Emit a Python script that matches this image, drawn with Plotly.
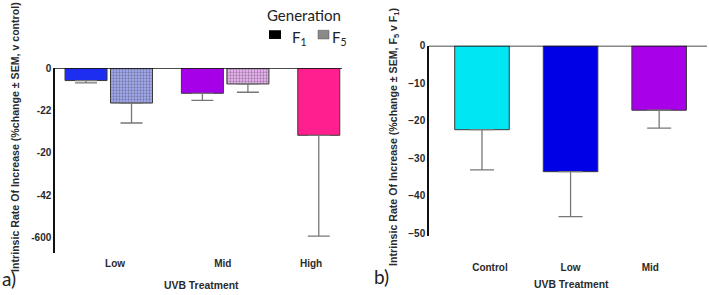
import plotly.graph_objects as go

# ---- data (panel a) ----
cats_a = ["Low", "Mid", "High"]
f1_vals = [-5.9, -11.9, -31.7]
f1_err = [1.1, 3.3, 47.5]
f5_vals = [-16.5, -7.5, None]
f5_err = [9.4, 3.9, 0]
ytick_vals_a = [0, -20, -40, -60, -80]
ytick_text_a = ["0", "-22", "-20", "-42", "-600"]

# ---- data (panel b) ----
cats_b = ["Control", "Low", "Mid"]
b_vals = [-22.4, -33.6, -17.2]
b_err = [10.7, 12.0, 4.8]
ytick_vals_b = [0, -10, -20, -30, -40, -50]

W, H = 709, 295
FONT = "Liberation Sans, Arial, sans-serif"
LFONT = "Lato, Open Sans, sans-serif"

f1_colors = ["#1e2ef0", "#a500e8", "#ff1f8e"]
f5_bg = ["#a6aefa", "#f2b6fa", "#ffffff"]
f5_fg = ["#2836e6", "#c038e6", "#ffffff"]
b_colors = ["#00e6f2", "#0000e6", "#a800e8"]

fig = go.Figure()

fig.add_trace(go.Bar(
    x=list(range(len(cats_a))), y=f1_vals, name="F1",
    marker=dict(color=f1_colors, line=dict(color="#3a3a3a", width=1)),
    error_y=dict(type="data", symmetric=False, array=[0]*3, arrayminus=f1_err,
                 color="#777777", thickness=1.3, width=11),
    xaxis="x", yaxis="y", showlegend=False))

fig.add_trace(go.Bar(
    x=list(range(len(cats_a))), y=f5_vals, name="F5",
    marker=dict(color=f5_bg, line=dict(color="#3a3a3a", width=1),
                pattern=dict(shape=".", fillmode="overlay", fgcolor=f5_fg,
                             size=3, solidity=0.45)),
    error_y=dict(type="data", symmetric=False, array=[0]*3, arrayminus=f5_err,
                 color="#777777", thickness=1.3, width=11),
    xaxis="x", yaxis="y", showlegend=False))

fig.add_trace(go.Bar(
    x=list(range(len(cats_b))), y=b_vals,
    width=[0.616]*3, offset=[-0.308]*3,
    marker=dict(color=b_colors, line=dict(color="#3a3a3a", width=1)),
    error_y=dict(type="data", symmetric=False, array=[0]*3, arrayminus=b_err,
                 color="#777777", thickness=1.3, width=12),
    xaxis="x2", yaxis="y2", showlegend=False))

tickfont = dict(family=FONT, size=10, color="#2a2a2a", weight=700)

fig.update_layout(
    width=W, height=H,
    margin=dict(l=0, r=0, t=0, b=0),
    paper_bgcolor="white", plot_bgcolor="white",
    barmode="group", bargap=0.218, bargroupgap=0.077,
    showlegend=False,
    xaxis=dict(domain=[55/W, 342/W], range=[-0.462, 2.004], anchor="y",
               tickmode="array", tickvals=[0.054, 0.98, 1.738], ticktext=cats_a,
               showline=False, showgrid=False, zeroline=False, ticks="",
               tickfont=tickfont, ticklabelstandoff=3),
    yaxis=dict(domain=[1-255/H, 1-64/H], range=[-87.3, 0], anchor="x",
               tickmode="array", tickvals=ytick_vals_a, ticktext=ytick_text_a,
               showline=True, linecolor="#111111", linewidth=1.5,
               showgrid=False, zeroline=False, ticks="", tickfont=tickfont),
    xaxis2=dict(domain=[429/W, 707/W], range=[-0.598, 2.54], anchor="y2",
                tickmode="array", tickvals=[0.09, 1.0, 1.9], ticktext=cats_b,
                showline=False, showgrid=False, zeroline=False, ticks="",
                tickfont=tickfont, ticklabelstandoff=24),
    yaxis2=dict(domain=[1-237/H, 1-41/H], range=[-50.7, 0], anchor="x2",
                tickmode="array", tickvals=ytick_vals_b,
                showline=True, linecolor="#111111", linewidth=1.5,
                showgrid=False, zeroline=False, ticks="", tickfont=tickfont),
)

# zero lines along the top of each panel
fig.add_shape(type="line", xref="x domain", yref="y", x0=0, x1=1, y0=0, y1=0,
              line=dict(color="#111111", width=1.5))
fig.add_shape(type="line", xref="x2 domain", yref="y2", x0=0, x1=1, y0=0, y1=0,
              line=dict(color="#111111", width=1.5))

titlefont = dict(family=FONT, size=10.6, color="#2a2a2a", weight=700)
ann = []
ann.append(dict(text="Intrinsic Rate Of Increase (%change ± SEM, v control)",
                x=15/W, y=1-135/H, textangle=-90, font=titlefont))
ann.append(dict(text="Intrinsic Rate Of Increase (%change ± SEM, F<sub>5</sub> v F<sub>1</sub>)",
                x=394/W, y=1-135/H, textangle=-90, font=titlefont))
ann.append(dict(text="UVB Treatment", x=201/W, y=1-288/H, font=dict(titlefont, size=10.4)))
ann.append(dict(text="UVB Treatment", x=571/W, y=1-287/H, font=dict(titlefont, size=10.4)))
ann.append(dict(text="a)", x=9/W, y=1-281/H, font=dict(family=LFONT, size=19, color="#222")))
ann.append(dict(text="b)", x=381/W, y=1-279/H, font=dict(family=LFONT, size=19, color="#222")))
ann.append(dict(text="Generation", x=304/W, y=1-9/H, font=dict(family=LFONT, size=15, color="#222")))
ann.append(dict(text="F<sub>1</sub>", x=290/W, y=1-33/H, xanchor="left",
                font=dict(family=LFONT, size=15, color="#222")))
ann.append(dict(text="F<sub>5</sub>", x=330/W, y=1-33/H, xanchor="left",
                font=dict(family=LFONT, size=15, color="#222")))
for a in ann:
    a.setdefault("xanchor", "center")
    a.update(xref="paper", yref="paper", yanchor="middle", showarrow=False)
fig.update_layout(annotations=ann)

# legend swatches
fig.add_shape(type="rect", xref="paper", yref="paper",
              x0=269/W, x1=281/W, y0=1-34/H, y1=1-25/H,
              fillcolor="#000000", line=dict(width=0))
fig.add_shape(type="rect", xref="paper", yref="paper",
              x0=318/W, x1=329/W, y0=1-34/H, y1=1-25/H,
              fillcolor="#8a8a8a", line=dict(color="#555555", width=0.5))

fig.write_html("out.html")
